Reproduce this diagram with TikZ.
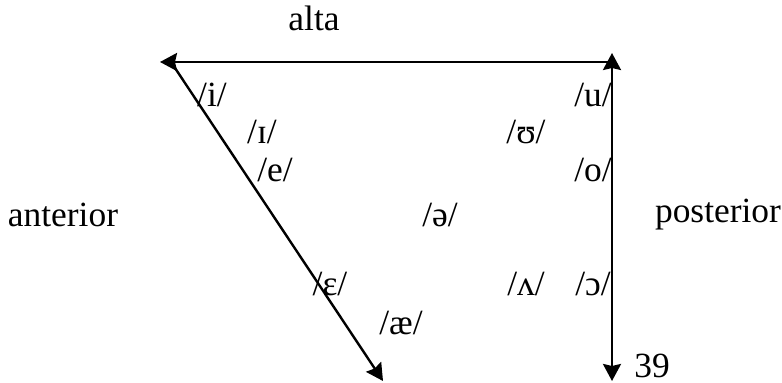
\documentclass[tikz,border=0pt]{standalone}
\usepackage{fontspec}
\setmainfont{Liberation Serif}
\newfontfamily\tnr{Liberation Serif}
\usetikzlibrary{arrows.meta}
\begin{document}
\begin{tikzpicture}[x=0.5pt,y=-0.5pt,
  lbl/.style={inner sep=0pt,font=\tnr\fontsize{17.7}{20}\selectfont},
  tip/.tip={Stealth[length=8.5pt,width=9pt,inset=1pt]},
  axis/.style={line width=1.2pt,-tip},
  daxis/.style={line width=1.2pt,tip-tip}]
\useasboundingbox (0,0) rectangle (782,383);
\coordinate (tr) at (612,62);
\coordinate (tl) at (160,62);
\coordinate (top) at (612,53);
\coordinate (bot) at (612,381);
\coordinate (ds) at (173,65);
\coordinate (de) at (383,381);
\draw[axis] (tr) -- (tl);
\draw[daxis] (top) -- (bot);
\draw[axis] (ds) -- (de);
\node[lbl] (alta) at (314,18) {alta};
\node[lbl] (ant) at (63,215) {anterior};
\node[lbl] (post) at (718,215) {posterior};
\node[lbl] (i) at (212,95) {/i/};
\node[lbl] (I) at (262,132) {/ɪ/};
\node[lbl] (e) at (275,170) {/e/};
\node[lbl] (schwa) at (440,215) {/ə/};
\node[lbl] (eps) at (330,284) {/ɛ/};
\node[lbl] (ae) at (401,323) {/æ/};
\node[lbl] (u) at (593,95) {/u/};
\node[lbl] (U) at (526,132) {/ʊ/};
\node[lbl] (o) at (593,170) {/o/};
\node[lbl] (V) at (526,284) {/ʌ/};
\node[lbl] (O) at (593,284) {/ɔ/};
\node[lbl] (n) at (652,366) {39};
\end{tikzpicture}
\end{document}
